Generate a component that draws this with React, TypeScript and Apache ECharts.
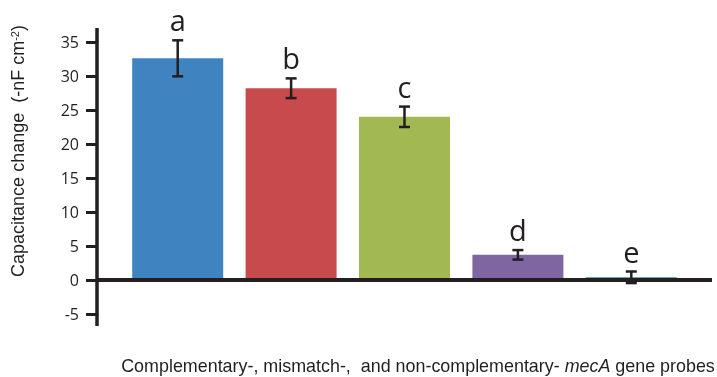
import React, { useEffect, useRef } from 'react';
import * as echarts from 'echarts';

const categories = ['Probe 1', 'Probe 2', 'Probe 3', 'Probe 4', 'Probe 5'];
const means = [32.6, 28.2, 24.0, 3.7, 0.4];
const errors = [2.65, 1.45, 1.5, 0.7, 0.85];
const letters = ['a', 'b', 'c', 'd', 'e'];
const barColors = ['#3f84c1', '#c84a4c', '#a2b853', '#7f65a2', '#2b8fa0'];
const yMin = -5;
const yMax = 35;
const yInterval = 5;

export default function App() {
  const ref = useRef<HTMLDivElement>(null);
  useEffect(() => {
    const chart = echarts.init(ref.current!, null, { renderer: 'svg' });
    const ink = '#231f20';
    chart.setOption({
      animation: false,
      grid: { left: 121, right: 29, top: 42, bottom: 63 },
      xAxis: {
        type: 'category',
        data: categories,
        axisLine: { show: false },
        axisTick: { show: false },
        axisLabel: { show: false },
      },
      yAxis: {
        type: 'value',
        min: yMin,
        max: yMax,
        interval: yInterval,
        offset: 24,
        splitLine: { show: false },
        axisLine: { show: true, lineStyle: { color: ink, width: 3.5 } },
        axisTick: { show: true, length: 11, lineStyle: { color: ink, width: 3 } },
        axisLabel: { margin: 18, color: ink, fontFamily: 'Open Sans', fontSize: 16 },
      },
      series: [
        {
          type: 'bar',
          barWidth: 91,
          data: means.map((v, i) => ({ value: v, itemStyle: { color: barColors[i] } })),
        },
        {
          type: 'custom',
          z: 10,
          data: means.map((m, i) => [i, m, errors[i]]),
          renderItem: (params: any, api: any) => {
            const x = api.value(0);
            const m = api.value(1);
            const e = api.value(2);
            const top = api.coord([x, m + e]);
            const bot = api.coord([x, m - e]);
            const half = 5.5;
            const st = { stroke: ink, lineWidth: 2.5 };
            return {
              type: 'group',
              children: [
                { type: 'line', shape: { x1: top[0], y1: top[1], x2: bot[0], y2: bot[1] }, style: st },
                { type: 'line', shape: { x1: top[0] - half, y1: top[1], x2: top[0] + half, y2: top[1] }, style: st },
                { type: 'line', shape: { x1: bot[0] - half, y1: bot[1], x2: bot[0] + half, y2: bot[1] }, style: st },
                {
                  type: 'text',
                  x: top[0],
                  y: top[1] - 6,
                  style: {
                    text: letters[params.dataIndex],
                    fill: ink,
                    font: '29px "Open Sans"',
                    align: 'center',
                    verticalAlign: 'bottom',
                  },
                },
              ],
            };
          },
        },
      ],
    });
    const y0 = chart.convertToPixel({ yAxisIndex: 0 }, 0) as number;
    const yTop = chart.convertToPixel({ yAxisIndex: 0 }, yMax) as number;
    const yBot = chart.convertToPixel({ yAxisIndex: 0 }, yMin) as number;
    const axisX = 97;
    chart.setOption({
      graphic: [
        { type: 'line', shape: { x1: axisX, y1: y0, x2: 712, y2: y0 }, style: { stroke: ink, lineWidth: 4 }, z: 20 },
        { type: 'line', shape: { x1: axisX, y1: 28, x2: axisX, y2: yTop }, style: { stroke: ink, lineWidth: 3.5 } },
        { type: 'line', shape: { x1: axisX, y1: yBot, x2: axisX, y2: 326 }, style: { stroke: ink, lineWidth: 3.5 } },
        {
          type: 'text',
          x: 18,
          y: 151,
          rotation: Math.PI / 2,
          style: {
            text: '{n|Capacitance change  (-nF cm}{s|-2}{n|)}',
            align: 'center',
            verticalAlign: 'middle',
            fill: ink,
            rich: {
              n: { fontFamily: 'Liberation Sans', fontSize: 18, fill: ink },
              s: { fontFamily: 'Liberation Sans', fontSize: 11, fill: ink, verticalAlign: 'top' },
            },
          },
        },
        {
          type: 'text',
          x: 418,
          y: 366,
          style: {
            text: '{n|Complementary-, mismatch-,  and non-complementary- }{i|mecA}{n| gene probes}',
            align: 'center',
            verticalAlign: 'middle',
            fill: ink,
            rich: {
              n: { fontFamily: 'Liberation Sans', fontSize: 17.9, fill: ink },
              i: { fontFamily: 'Liberation Sans', fontSize: 17.9, fontStyle: 'italic', fill: ink },
            },
          },
        },
      ],
    });
    return () => chart.dispose();
  }, []);
  return <div ref={ref} style={{ position: 'fixed', left: 0, top: 0, width: 717, height: 377 }} />;
}
